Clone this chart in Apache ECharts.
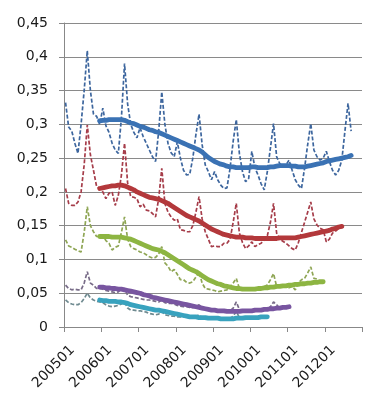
<!DOCTYPE html>
<html>
<head>
<meta charset="utf-8">
<script src="https://cdn.jsdelivr.net/npm/echarts@6/dist/echarts.min.js"></script>
<style>
html,body{margin:0;padding:0;background:#fff;}
#c{width:366px;height:393px;}
</style>
</head>
<body>
<div id="c"></div>
<script>
// Categories: months 200501 .. 201212
var years = ['2005','2006','2007','2008','2009','2010','2011','2012'];
var months = ['01','02','03','04','05','06','07','08','09','10','11','12'];
var categories = [];
years.forEach(function(y){ months.forEach(function(m){ categories.push(y + m); }); });

// Tick labels shown on the x axis
var xTickLabels = ['200501','200601','200701','200801','200901','201001','201101','201201'];
var yTicks = [0, 0.05, 0.1, 0.15, 0.2, 0.25, 0.3, 0.35, 0.4, 0.45];

// Monthly (dashed) series
var blueMonthly = [
  0.332,0.296,0.290,0.272,0.257,0.300,0.350,0.409,0.350,0.315,0.312,0.300,
  0.324,0.298,0.288,0.272,0.262,0.257,0.310,0.390,0.330,0.300,0.288,0.280,
  0.295,0.282,0.272,0.262,0.252,0.245,0.290,0.348,0.300,0.272,0.258,0.252,
  0.274,0.250,0.232,0.225,0.226,0.250,0.285,0.315,0.270,0.240,0.230,0.218,
  0.230,0.218,0.210,0.205,0.206,0.235,0.275,0.307,0.257,0.230,0.215,0.220,
  0.260,0.236,0.225,0.212,0.203,0.230,0.265,0.301,0.252,0.242,0.237,0.240,
  0.247,0.232,0.218,0.210,0.205,0.235,0.270,0.301,0.262,0.252,0.247,0.250,
  0.260,0.245,0.232,0.225,0.232,0.247,0.290,0.331,0.290
];
var redMonthly = [
  0.205,0.183,0.180,0.180,0.185,0.200,0.240,0.299,0.255,0.232,0.208,0.205,
  0.200,0.190,0.198,0.200,0.180,0.195,0.225,0.272,0.213,0.193,0.192,0.190,
  0.178,0.182,0.173,0.172,0.168,0.163,0.190,0.235,0.183,0.170,0.163,0.158,
  0.160,0.144,0.143,0.141,0.141,0.150,0.170,0.193,0.160,0.141,0.130,0.119,
  0.120,0.119,0.119,0.124,0.124,0.130,0.155,0.183,0.139,0.125,0.116,0.120,
  0.126,0.119,0.122,0.124,0.129,0.135,0.155,0.183,0.139,0.130,0.127,0.124,
  0.120,0.116,0.114,0.125,0.140,0.155,0.170,0.185,0.160,0.151,0.146,0.144,
  0.126,0.130,0.139,0.142,0.146,0.148
];
var greenMonthly = [
  0.129,0.120,0.118,0.115,0.113,0.111,0.140,0.178,0.150,0.141,0.134,0.134,
  0.135,0.128,0.124,0.114,0.118,0.120,0.140,0.163,0.130,0.119,0.116,0.114,
  0.111,0.110,0.107,0.104,0.102,0.103,0.108,0.119,0.095,0.090,0.082,0.085,
  0.078,0.070,0.070,0.066,0.065,0.067,0.074,0.082,0.065,0.057,0.056,0.055,
  0.054,0.052,0.053,0.054,0.055,0.060,0.065,0.072,0.057,0.056,0.055,0.057,
  0.058,0.057,0.058,0.059,0.060,0.062,0.070,0.079,0.060,0.061,0.061,0.060,
  0.058,0.060,0.055,0.065,0.070,0.072,0.080,0.089,0.072,0.071,0.068,0.067
];
var purpleMonthly = [
  0.062,0.057,0.055,0.056,0.055,0.055,0.065,0.082,0.065,0.062,0.057,0.057,
  0.056,0.054,0.053,0.052,0.051,0.052,0.057,0.057,0.047,0.045,0.044,0.043,
  0.042,0.041,0.040,0.040,0.039,0.038,0.037,0.040,0.036,0.035,0.035,0.034,
  0.032,0.031,0.030,0.030,0.029,0.029,0.030,0.033,0.028,0.026,0.025,0.025,
  0.025,0.024,0.024,0.023,0.023,0.024,0.028,0.037,0.026,0.024,0.023,0.023,
  0.023,0.023,0.024,0.024,0.025,0.026,0.030,0.037,0.033,0.028,0.028,0.029,
  0.030
];
var cyanMonthly = [
  0.040,0.036,0.034,0.033,0.033,0.036,0.042,0.050,0.043,0.040,0.038,0.037,
  0.036,0.033,0.031,0.030,0.031,0.032,0.034,0.037,0.028,0.025,0.025,0.024,
  0.024,0.023,0.022,0.020,0.019,0.018,0.019,0.023,0.018,0.017,0.016,0.016,
  0.015,0.015,0.015,0.015,0.014,0.015,0.016,0.018,0.014,0.013,0.013,0.013,
  0.013,0.013,0.012,0.012,0.012,0.013,0.016,0.023,0.014,0.013,0.013,0.013,
  0.013,0.013,0.014,0.014,0.014,0.015
];

// Trend (thick) series, starting at 200512
var blueTrend = [
  null,null,null,null,null,null,null,null,null,null,null,
  0.305,
  0.306,0.306,0.307,0.307,0.307,0.307,0.307,0.306,0.304,0.302,0.301,0.299,
  0.297,0.296,0.294,0.292,0.291,0.289,0.288,0.286,0.284,0.282,0.280,0.278,
  0.276,0.274,0.272,0.270,0.268,0.266,0.264,0.262,0.259,0.255,0.251,0.248,
  0.245,0.243,0.241,0.240,0.238,0.237,0.237,0.236,0.236,0.236,0.236,0.236,
  0.237,0.237,0.236,0.236,0.236,0.236,0.237,0.237,0.238,0.239,0.239,0.239,
  0.239,0.238,0.238,0.237,0.237,0.237,0.238,0.239,0.240,0.241,0.242,0.243,
  0.245,0.246,0.247,0.248,0.249,0.250,0.251,0.252,0.254
];
var redTrend = [
  null,null,null,null,null,null,null,null,null,null,null,
  0.205,
  0.206,0.207,0.208,0.209,0.209,0.210,0.210,0.209,0.207,0.205,0.203,0.200,
  0.198,0.196,0.194,0.192,0.191,0.190,0.189,0.187,0.185,0.183,0.180,0.177,
  0.174,0.171,0.168,0.165,0.163,0.161,0.159,0.157,0.154,0.151,0.148,0.145,
  0.143,0.141,0.139,0.137,0.136,0.135,0.134,0.133,0.133,0.133,0.132,0.132,
  0.132,0.131,0.131,0.131,0.131,0.131,0.131,0.131,0.131,0.132,0.132,0.132,
  0.132,0.132,0.132,0.133,0.134,0.135,0.136,0.137,0.138,0.139,0.140,0.141,
  0.142,0.143,0.145,0.146,0.148,0.149
];
var greenTrend = [
  null,null,null,null,null,null,null,null,null,null,null,
  0.134,
  0.134,0.134,0.134,0.133,0.133,0.133,0.133,0.132,0.131,0.130,0.128,0.126,
  0.124,0.122,0.120,0.118,0.116,0.115,0.114,0.112,0.110,0.107,0.104,0.101,
  0.098,0.095,0.092,0.089,0.086,0.084,0.082,0.079,0.076,0.073,0.070,0.068,
  0.066,0.064,0.063,0.061,0.060,0.059,0.058,0.057,0.057,0.056,0.056,0.056,
  0.056,0.056,0.057,0.057,0.058,0.058,0.059,0.059,0.060,0.060,0.061,0.061,
  0.062,0.062,0.063,0.063,0.064,0.064,0.065,0.065,0.066,0.066,0.067,0.067
];
var purpleTrend = [
  null,null,null,null,null,null,null,null,null,null,null,
  0.059,
  0.059,0.058,0.058,0.057,0.057,0.056,0.056,0.055,0.054,0.053,0.052,0.051,
  0.050,0.048,0.047,0.046,0.044,0.043,0.042,0.041,0.040,0.039,0.038,0.037,
  0.036,0.035,0.034,0.033,0.032,0.031,0.030,0.029,0.028,0.027,0.026,0.025,
  0.025,0.024,0.024,0.024,0.023,0.023,0.023,0.023,0.023,0.024,0.024,0.024,
  0.024,0.025,0.025,0.025,0.026,0.026,0.027,0.027,0.028,0.028,0.029,0.029,
  0.030
];
var cyanTrend = [
  null,null,null,null,null,null,null,null,null,null,null,
  0.040,
  0.039,0.039,0.038,0.038,0.038,0.037,0.037,0.036,0.035,0.033,0.032,0.031,
  0.030,0.029,0.028,0.027,0.026,0.025,0.025,0.024,0.023,0.022,0.021,0.020,
  0.019,0.018,0.017,0.016,0.015,0.015,0.015,0.014,0.014,0.014,0.013,0.013,
  0.013,0.013,0.012,0.012,0.012,0.012,0.012,0.013,0.013,0.013,0.014,0.014,
  0.014,0.014,0.014,0.015,0.015,0.015
];

var font = 'DejaVu Sans';
function dashed(data, color){
  return { type:'line', data:data, symbol:'none', silent:true, z:2,
    lineStyle:{ color:color, width:1.7, type:[4,2] } };
}
function thick(data, color){
  return { type:'line', data:data, symbol:'none', silent:true, z:3, connectNulls:false,
    lineStyle:{ color:color, width:4.8, cap:'round', join:'round' } };
}

var chart = echarts.init(document.getElementById('c'), null, {renderer:'canvas'});
chart.setOption({
  animation:false,
  backgroundColor:'#ffffff',
  grid:{ left:64, top:23, width:298, height:304, containLabel:false },
  xAxis:{
    type:'category', data:categories, boundaryGap:true,
    axisLine:{ lineStyle:{ color:'#888888', width:1 } },
    axisTick:{ show:true, interval:11, length:5, lineStyle:{ color:'#888888' } },
    axisLabel:{ show:false },
    splitLine:{ show:false }
  },
  yAxis:{
    type:'value', min:yTicks[0], max:yTicks[yTicks.length-1], interval:0.05,
    axisLine:{ show:true, lineStyle:{ color:'#888888', width:1 } },
    axisTick:{ show:true, length:5, lineStyle:{ color:'#888888' } },
    axisLabel:{ margin:16, color:'#1a1a1a', fontFamily:font, fontSize:14,
      formatter:function(v){ return String(Number(v.toFixed(2))).replace('.', ','); } },
    splitLine:{ show:true, lineStyle:{ color:'#8a8a8a', width:1 } }
  },
  series:[
    dashed(blueMonthly, '#3d669e'),
    dashed(redMonthly, '#a63d4a'),
    dashed(greenMonthly, '#8fa655'),
    dashed(purpleMonthly, '#786c88'),
    dashed(cyanMonthly, '#6f8a90'),
    thick(blueTrend, '#3a72b4'),
    thick(redTrend, '#b3383b'),
    thick(greenTrend, '#8db542'),
    thick(purpleTrend, '#7855a0'),
    thick(cyanTrend, '#38a2be')
  ]
});

// Rotated x-axis tick labels, positioned through the chart's own axis scales
var y0 = chart.convertToPixel({ yAxisIndex:0 }, 0);
var labelGraphics = xTickLabels.map(function(lab){
  var px = chart.convertToPixel({ xAxisIndex:0 }, lab);
  return {
    type:'text', silent:true, z:10,
    x: px + 7, y: y0 + 21,
    rotation: Math.PI / 4,
    style:{ text: lab, align:'right', verticalAlign:'middle',
      fill:'#1a1a1a', font: '14px "DejaVu Sans"' }
  };
});
chart.setOption({ graphic: labelGraphics });
</script>
</body>
</html>
